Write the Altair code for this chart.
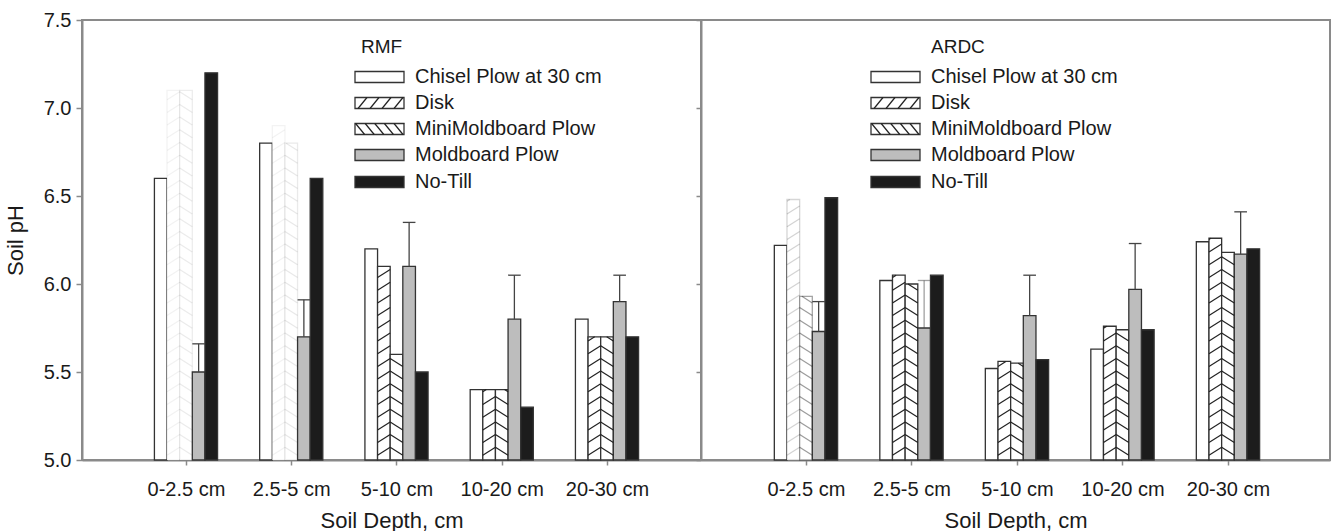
import altair as alt
import pandas as pd

# ---------------- data ----------------
DEPTHS = ["0-2.5 cm", "2.5-5 cm", "5-10 cm", "10-20 cm", "20-30 cm"]
TREATMENTS = ["Chisel Plow at 30 cm", "Disk", "MiniMoldboard Plow", "Moldboard Plow", "No-Till"]
SITES = ["RMF", "ARDC"]

RMF_CHISEL = [6.60, 6.80, 6.20, 5.40, 5.80]
RMF_DISK = [7.10, 6.90, 6.10, 5.40, 5.70]
RMF_MINI = [7.10, 6.80, 5.60, 5.40, 5.70]
RMF_MOLD = [5.50, 5.70, 6.10, 5.80, 5.90]
RMF_NOTILL = [7.20, 6.60, 5.50, 5.30, 5.70]
RMF_MOLD_ERR = [0.16, 0.21, 0.25, 0.25, 0.15]

ARDC_CHISEL = [6.22, 6.02, 5.52, 5.63, 6.24]
ARDC_DISK = [6.48, 6.05, 5.56, 5.76, 6.26]
ARDC_MINI = [5.93, 6.00, 5.55, 5.74, 6.18]
ARDC_MOLD = [5.73, 5.75, 5.82, 5.97, 6.17]
ARDC_NOTILL = [6.49, 6.05, 5.57, 5.74, 6.20]
ARDC_MOLD_ERR = [0.17, 0.27, 0.23, 0.26, 0.24]

VALUES = {
    "RMF": [RMF_CHISEL, RMF_DISK, RMF_MINI, RMF_MOLD, RMF_NOTILL],
    "ARDC": [ARDC_CHISEL, ARDC_DISK, ARDC_MINI, ARDC_MOLD, ARDC_NOTILL],
}
ERRORS = {"RMF": RMF_MOLD_ERR, "ARDC": ARDC_MOLD_ERR}

# ---------------- style / layout ----------------
FONT = "Liberation Sans"
TXT = "#1a1a1a"
GREY = "#8a8a8a"
FILLS = ["#ffffff", "#ffffff", "#ffffff", "#bdbdbd", "#1c1c1c"]
# washed-out bars in the scanned original (site, depth index, treatment index) -> opacity
FADED = {("RMF", 0, 1): 0.06, ("RMF", 0, 2): 0.09, ("RMF", 1, 1): 0.06,
         ("RMF", 1, 2): 0.10, ("ARDC", 0, 1): 0.2, ("ARDC", 0, 2): 0.45}
H = 440
Y0, Y1 = 5.0, 7.5
PANEL = {
    "RMF": dict(width=619, domain=[-0.988, 4.893], sym=(273, 322), text=333, title=(279, 27)),
    "ARDC": dict(width=629, domain=[-0.995, 4.967], sym=(170, 219), text=230, title=(230, 27)),
}
ROWS = [57, 83, 109, 135, 162]
BW = 0.12
PERIOD, RISE = 12.7, 8.0
PXY = H / (Y1 - Y0)


def clip_seg(x0, y0, x1, y1, ymax):
    """clip a segment (pixel units, y up) to 0<=y<=ymax"""
    lo, hi = 0.0, 1.0
    dy = y1 - y0
    if dy != 0:
        a, b = (0 - y0) / dy, (ymax - y0) / dy
        lo, hi = max(lo, min(a, b)), min(hi, max(a, b))
    if hi <= lo:
        return None
    return (x0 + (x1 - x0) * lo, y0 + dy * lo, x0 + (x1 - x0) * hi, y0 + dy * hi)


def panel(site, show_y):
    P = PANEL[site]
    W = P["width"]
    d0, d1 = P["domain"]
    pxx = W / (d1 - d0)

    def px2x(px):
        return d0 + px / pxx

    def px2y(py):
        return Y1 - py / PXY

    bars, hatch, err = [], [], []
    for d in range(len(DEPTHS)):
        for t, tr in enumerate(TREATMENTS):
            v = VALUES[site][t][d]
            xc = d + (t - 2) * BW
            xl, xr = xc - BW / 2, xc + BW / 2
            a = FADED.get((site, d, t), 1.0)
            bars.append(dict(x=xl, x2=xr, y=Y0, y2=v, treatment=tr, alpha=a))
            if t in (1, 2):
                hpx = (v - Y0) * PXY
                wpx = BW * pxx
                yb = -RISE
                while yb < hpx:
                    if t == 1:
                        seg = clip_seg(0, yb, wpx, yb + RISE, hpx)
                    else:
                        seg = clip_seg(wpx, yb, 0, yb + RISE, hpx)
                    if seg:
                        hatch.append(dict(x=xl + seg[0] / pxx, y=Y0 + seg[1] / PXY,
                                          x2=xl + seg[2] / pxx, y2=Y0 + seg[3] / PXY, alpha=a))
                    yb += PERIOD
            if t == 3:
                e = ERRORS[site][d]
                ea = 0.5 if (site == "ARDC" and d == 1) else 1.0
                err.append(dict(x=xc, x2=xc, y=v, y2=v + e, alpha=ea))
                err.append(dict(x=xl, x2=xr, y=v + e, y2=v + e, alpha=ea))

    # custom legend in pixel layout converted to data space
    sx0, sx1 = P["sym"]
    leg_rect, leg_hatch, leg_text = [], [], []
    for i, tr in enumerate(TREATMENTS):
        cy = ROWS[i]
        leg_rect.append(dict(x=px2x(sx0), x2=px2x(sx1), y=px2y(cy + 5.5), y2=px2y(cy - 5.5), treatment=tr))
        leg_text.append(dict(x=px2x(P["text"]), y=px2y(cy), label=tr))
        if i in (1, 2):
            sw, sh = sx1 - sx0, 11.0
            step = 12.0 if i == 1 else 9.6
            run = 9.0
            a = -run
            while a < sw:
                if i == 1:
                    xa, xb = a, a + run
                else:
                    xa, xb = a + run, a
                lo, hi = 0.0, 1.0
                dx = xb - xa
                ta, tb = (0 - xa) / dx, (sw - xa) / dx
                lo, hi = max(lo, min(ta, tb)), min(hi, max(ta, tb))
                if hi > lo:
                    X0 = xa + dx * lo
                    X1 = xa + dx * hi
                    leg_hatch.append(dict(x=px2x(sx0 + X0), y=px2y(cy + 5.5 - sh * lo),
                                          x2=px2x(sx0 + X1), y2=px2y(cy + 5.5 - sh * hi)))
                a += step
    title_df = pd.DataFrame([dict(x=px2x(P["title"][0]), y=px2y(P["title"][1]), label=site)])

    xs = alt.Scale(domain=[d0, d1], nice=False, zero=False)
    ys = alt.Scale(domain=[Y0, Y1], nice=False, zero=False)
    label_expr = "[" + ",".join("'%s'" % s for s in DEPTHS) + "][datum.value]"
    xaxis = alt.Axis(values=list(range(len(DEPTHS))), labelExpr=label_expr, title="Soil Depth, cm",
                     grid=False, tickSize=5, labelPadding=14, titlePadding=11)
    if show_y:
        yaxis = alt.Axis(values=[5.0, 5.5, 6.0, 6.5, 7.0, 7.5], format=".1f", title="Soil pH",
                         grid=False, tickSize=6, labelPadding=5, titlePadding=16)
    else:
        yaxis = alt.Axis(values=[5.0, 5.5, 6.0, 6.5, 7.0, 7.5], labels=False, title=None,
                         grid=False, tickSize=5)

    fill = alt.Fill("treatment:N", scale=alt.Scale(domain=TREATMENTS, range=FILLS), legend=None)

    def xy(extra2=True):
        enc = dict(x=alt.X("x:Q", scale=xs, axis=xaxis), y=alt.Y("y:Q", scale=ys, axis=yaxis))
        if extra2:
            enc.update(x2="x2:Q", y2="y2:Q")
        return enc

    bar_layer = alt.Chart(pd.DataFrame(bars)).mark_rect(stroke="#333333", strokeWidth=1.3).encode(
        fill=fill, strokeOpacity=alt.StrokeOpacity("alpha:Q", scale=None), **xy())
    hatch_layer = alt.Chart(pd.DataFrame(hatch)).mark_rule(color="#222222", strokeWidth=1.2).encode(
        opacity=alt.Opacity("alpha:Q", scale=None), **xy())
    err_layer = alt.Chart(pd.DataFrame(err)).mark_rule(color="#444444", strokeWidth=1.3).encode(
        opacity=alt.Opacity("alpha:Q", scale=None), **xy())
    leg_rect_layer = alt.Chart(pd.DataFrame(leg_rect)).mark_rect(stroke="#333333", strokeWidth=1.3).encode(
        fill=fill, **xy())
    leg_hatch_layer = alt.Chart(pd.DataFrame(leg_hatch)).mark_rule(color="#222222", strokeWidth=1.2).encode(
        **xy())
    leg_text_layer = alt.Chart(pd.DataFrame(leg_text)).mark_text(
        align="left", baseline="middle", font=FONT, fontSize=20, color=TXT).encode(
        text="label:N", **xy(False))
    title_layer = alt.Chart(title_df).mark_text(
        align="left", baseline="middle", font=FONT, fontSize=19, color=TXT).encode(
        text="label:N", **xy(False))
    return alt.layer(bar_layer, hatch_layer, err_layer, leg_rect_layer, leg_hatch_layer,
                     leg_text_layer, title_layer).properties(width=W, height=H)


chart = alt.hconcat(panel("RMF", True), panel("ARDC", False), spacing=0, bounds="flush").properties(
    padding={"left": 3, "top": 9, "right": 2, "bottom": 0},
    background="white",
).configure_view(stroke=GREY, strokeWidth=2).configure_axis(
    domainColor=GREY, domainWidth=2, tickColor=GREY, tickWidth=1.5,
    labelFont=FONT, labelFontSize=20, labelColor=TXT,
    titleFont=FONT, titleFontSize=22, titleFontWeight="normal", titleColor=TXT,
)

chart.save("out.html", embed_options={"renderer": "svg", "actions": False})
